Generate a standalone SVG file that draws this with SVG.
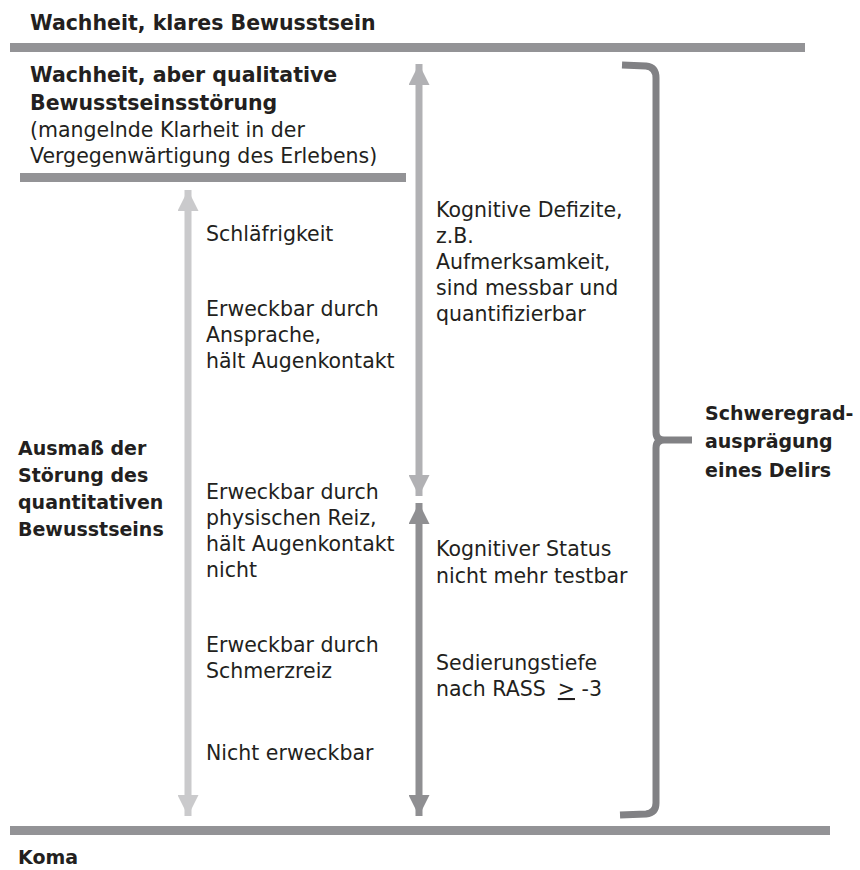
<svg xmlns="http://www.w3.org/2000/svg" width="860" height="870" viewBox="0 0 860 870">
<style>
text{font-family:"DejaVu Sans","Open Sans","Liberation Sans",sans-serif;fill:#231f20;font-size:20.5px}
.b{font-weight:bold;font-size:19px}
.h{font-weight:bold;font-size:20.5px}
.bar{fill:#939396}
</style>
<defs>
<marker id="aL" viewBox="0 0 10 10" refX="10" refY="5" markerWidth="3.2" markerHeight="3" orient="auto-start-reverse" markerUnits="strokeWidth"><path d="M0,0 L10,5 L0,10 z" fill="#cacacc"/></marker>
<marker id="aM" viewBox="0 0 10 10" refX="10" refY="5" markerWidth="3.2" markerHeight="3" orient="auto-start-reverse" markerUnits="strokeWidth"><path d="M0,0 L10,5 L0,10 z" fill="#b1b1b4"/></marker>
<marker id="aD" viewBox="0 0 10 10" refX="10" refY="5" markerWidth="3.2" markerHeight="3" orient="auto-start-reverse" markerUnits="strokeWidth"><path d="M0,0 L10,5 L0,10 z" fill="#8f8f92"/></marker>
</defs>
<rect width="860" height="870" fill="#fff"/>

<g id="top">
<text class="h" x="30" y="30">Wachheit, klares Bewusstsein</text>
<rect class="bar" x="10" y="43" width="795" height="9"/>
</g>

<g id="qualitative">
<text class="h" x="30" y="82">Wachheit, aber qualitative</text>
<text class="h" x="30" y="110">Bewusstseinsstörung</text>
<text x="30" y="137">(mangelnde Klarheit in der</text>
<text x="30" y="163">Vergegenwärtigung des Erlebens)</text>
<rect class="bar" x="20" y="173" width="386" height="9"/>
</g>

<g id="connectors">
<line x1="188" y1="190" x2="188" y2="816" stroke="#cacacc" stroke-width="7" marker-start="url(#aL)" marker-end="url(#aL)"/>
<line x1="419" y1="64" x2="419" y2="496" stroke="#b1b1b4" stroke-width="7" marker-start="url(#aM)" marker-end="url(#aM)"/>
<line x1="419" y1="503" x2="419" y2="816" stroke="#8f8f92" stroke-width="7" marker-start="url(#aD)" marker-end="url(#aD)"/>
<path d="M622,65 L646,66 Q656,67 656,78 L656,432 Q656,440 664,440 L692,440 M664,440 Q656,440 656,448 L656,803 Q656,813 646,814 L620,815" fill="none" stroke="#818184" stroke-width="7" stroke-linejoin="round"/>
</g>

<g id="quantitative">
<text class="b" x="18" y="455">Ausmaß der</text>
<text class="b" x="18" y="482">Störung des</text>
<text class="b" x="18" y="509">quantitativen</text>
<text class="b" x="18" y="536">Bewusstseins</text>
</g>

<g id="levels">
<text x="206" y="241">Schläfrigkeit</text>
<text x="206" y="316">Erweckbar durch</text>
<text x="206" y="342">Ansprache,</text>
<text x="206" y="368">hält Augenkontakt</text>
<text x="206" y="499">Erweckbar durch</text>
<text x="206" y="525">physischen Reiz,</text>
<text x="206" y="551">hält Augenkontakt</text>
<text x="206" y="577">nicht</text>
<text x="206" y="652">Erweckbar durch</text>
<text x="206" y="678">Schmerzreiz</text>
<text x="206" y="760">Nicht erweckbar</text>
</g>

<g id="cognitive">
<text x="436" y="217">Kognitive Defizite,</text>
<text x="436" y="243">z.B.</text>
<text x="436" y="269">Aufmerksamkeit,</text>
<text x="436" y="295">sind messbar und</text>
<text x="436" y="321">quantifizierbar</text>
<text x="436" y="556">Kognitiver Status</text>
<text x="436" y="583">nicht mehr testbar</text>
<text x="436" y="670">Sedierungstiefe</text>
<text x="436" y="696">nach RASS<tspan dx="12" text-decoration="underline">&gt;</tspan> -3</text>
</g>

<g id="severity">
<text class="b" x="705" y="420">Schweregrad-</text>
<text class="b" x="705" y="448">ausprägung</text>
<text class="b" x="705" y="477">eines Delirs</text>
</g>

<g id="koma">
<rect class="bar" x="10" y="826" width="820" height="9"/>
<text class="b" x="18" y="864">Koma</text>
</g>
</svg>
